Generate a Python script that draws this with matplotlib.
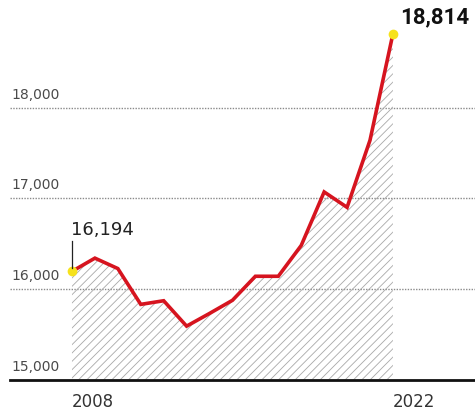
import numpy as np
import matplotlib
matplotlib.use('Agg')
import matplotlib.pyplot as plt

# Data
years = [2008, 2009, 2010, 2011, 2012, 2013, 2014, 2015,
         2016, 2017, 2018, 2019, 2020, 2021, 2022]
values = [16194, 16340, 16225, 15830, 15870, 15590, 15730, 15875,
          16140, 16140, 16480, 17070, 16900, 17640, 18814]
y_ticks = [15000, 16000, 17000, 18000]
x_labels = [2008, 2022]

plt.rcParams['hatch.linewidth'] = 0.6
plt.rcParams['hatch.color'] = '#a8a8a8'

fig = plt.figure(figsize=(4.75, 4.12), dpi=100)
ax = fig.add_axes([0, 0, 1, 1])
ax.set_xlim(2004.86, 2025.58)
ax.set_ylim(14643, 19187)
ax.axis('off')

# Gridlines and labels
x_grid_start = 10 / 475
for t in y_ticks:
    if t == 15000:
        ax.axhline(t, xmin=x_grid_start, xmax=1, color='#111111', lw=2, zorder=4)
    else:
        ax.axhline(t, xmin=x_grid_start, xmax=1, color='#8a8a8a', lw=1,
                   ls=(0, (1, 1)), zorder=1)
    ax.text(2005.38, t + 65, f'{t:,}', fontsize=10, color='#4a4a4a',
            ha='left', va='bottom', zorder=5)

# Hatched area under the line
ax.fill_between(years, values, 15000, facecolor='none', edgecolor='#a8a8a8',
                hatch='////', linewidth=0, zorder=2)

# Line
ax.plot(years, values, color='#d6141f', lw=2.6, solid_joinstyle='miter',
        zorder=3)

# End points
ax.plot([years[0], years[-1]], [values[0], values[-1]], 'o',
        color='#f6e21c', markersize=7, markeredgewidth=0, zorder=4)

# Annotations
ax.plot([years[0], years[0]], [values[0] + 40, values[0] + 330],
        color='#222222', lw=0.9, zorder=4)
ax.text(years[0] - 0.03, values[0] + 360, f'{values[0]:,}', fontsize=13,
        color='#222222', ha='left', va='bottom', zorder=5)
ax.text(years[-1] + 0.3, values[-1] + 55, f'{values[-1]:,}', fontsize=16,
        fontweight='bold', family=['Roboto', 'DejaVu Sans'],
        color='#111111', ha='left', va='bottom', zorder=5)

# X labels
for yr in x_labels:
    ax.text(yr, 14850, str(yr), fontsize=12, color='#333333',
            ha='left', va='top', zorder=5)

fig.savefig('out.png', dpi=100, facecolor='white')
